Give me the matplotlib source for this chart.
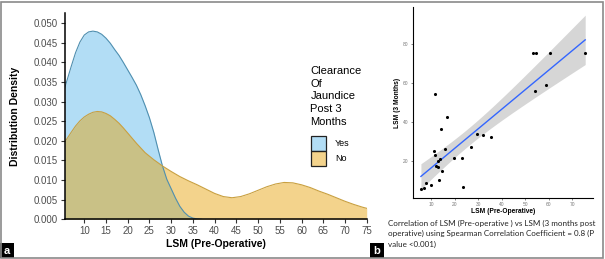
import numpy as np
import matplotlib
matplotlib.use("Agg")
from matplotlib import pyplot as plt
from matplotlib.patches import Rectangle

# panel a: density curves
yes_x = [5.5, 7, 8, 9, 10, 11, 12, 13, 14, 15, 16, 17, 18, 19, 20, 21, 22, 23, 24,
         25, 26, 27, 28, 29, 30, 31, 32, 33, 34, 35, 36, 37]
yes_y = [0.0335, 0.0390, 0.0425, 0.0452, 0.0470, 0.0478, 0.0480, 0.0478, 0.0472,
         0.0462, 0.0449, 0.0433, 0.0418, 0.0400, 0.0381, 0.0362, 0.0342, 0.0318,
         0.0290, 0.0259, 0.0222, 0.0178, 0.0136, 0.0102, 0.0078, 0.0054, 0.0033,
         0.0018, 0.0008, 0.0003, 0.0001, 0.0]

no_x = [5.5, 7, 8, 9, 10, 11, 12, 13, 14, 15, 16, 17, 18, 19, 20, 21, 22, 24, 26,
        28, 30, 32, 34, 36, 38, 40, 42, 44, 46, 48, 50, 52, 54, 56, 58, 60, 62, 64,
        66, 68, 70, 72, 74, 75]
no_y = [0.0197, 0.0222, 0.0238, 0.0251, 0.0261, 0.0268, 0.0273, 0.0275, 0.0274,
        0.0270, 0.0264, 0.0255, 0.0245, 0.0233, 0.0220, 0.0207, 0.0194, 0.0170,
        0.0152, 0.0136, 0.0122, 0.0109, 0.0098, 0.0088, 0.0077, 0.0066, 0.0058,
        0.0055, 0.0058, 0.0065, 0.0074, 0.0083, 0.0090, 0.0094, 0.0093, 0.0088,
        0.0081, 0.0072, 0.0064, 0.0055, 0.0046, 0.0038, 0.0031, 0.0028]

# panel b: LSM pre-operative vs LSM at 3 months
lsm_pre = [5.5, 7.0, 7.8, 9.8, 13.3, 14.4, 12.0, 12.7, 12.6, 13.5, 11.3, 11.1, 15.9,
           14.1, 16.8, 11.3, 19.6, 22.9, 23.6, 26.7, 29.3, 32.0, 35.2, 53.2, 54.5,
           60.4, 75.5, 54.3, 59.0]
lsm_3m = [5.5, 6.2, 8.7, 7.7, 10.3, 15.0, 17.3, 17.0, 19.8, 21.0, 22.9, 25.1, 26.1,
          36.2, 42.6, 54.4, 21.4, 21.4, 6.9, 27.0, 34.0, 33.5, 32.2, 75.2, 75.2,
          75.2, 75.2, 55.7, 59.0]

groups = ["Yes", "No"]
legend_title = "Clearance\nOf\nJaundice\nPost 3\nMonths"
caption = ("Correlation of LSM (Pre-operative ) vs LSM (3 months post\n"
           "operative) using Spearman Correlation Coefficient = 0.8 (P\n"
           "value <0.001)")

plt.rcParams['font.family'] = ['Liberation Sans', 'DejaVu Sans']

W, H = 605, 259
fig = plt.figure(figsize=(W / 100, H / 100), dpi=100)

# ---- panel a ----
ax = fig.add_axes([64.7 / W, 1 - 219.3 / H, 302 / W, 206.6 / H])
blue, orange = "#56B4E9", "#E69F00"
fill_a = 0.45
ax.fill_between(yes_x, yes_y, color=blue, alpha=fill_a, lw=0)
ax.plot(yes_x, yes_y, color="#4f8fb0", lw=0.8)
ax.fill_between(no_x, no_y, color=orange, alpha=fill_a, lw=0)
ax.plot(no_x, no_y, color="#c9a040", lw=0.8)

ax.set_xlim(5.5, 75)
ax.set_ylim(0, 0.0527)
ax.set_xticks(range(10, 76, 5))
ax.set_yticks(np.arange(0, 0.0501, 0.005))
ax.yaxis.set_major_formatter(matplotlib.ticker.FormatStrFormatter("%.3f"))
ax.tick_params(labelsize=7, labelcolor="#4d4d4d", length=3, width=0.8, color="#333333", pad=2)
for s in ["top", "right"]:
    ax.spines[s].set_visible(False)
for s in ["left", "bottom"]:
    ax.spines[s].set_linewidth(1.1)
ax.set_xlabel("LSM (Pre-Operative)", fontsize=7.5, fontweight="bold", labelpad=2)
ax.set_ylabel("Distribution Density", fontsize=7.5, fontweight="bold", labelpad=9.5)

# legend drawn by hand so the keys touch like in ggplot
fig.text(310.5 / W, 1 - 66 / H, legend_title, fontsize=8, va="top", ha="left",
         linespacing=1.33)
for i, (g, c) in enumerate(zip(groups, [blue, orange])):
    top = 136 + 15 * i
    fig.patches.append(Rectangle((310.7 / W, 1 - (top + 15) / H), 15.3 / W, 15 / H,
                                 transform=fig.transFigure,
                                 facecolor=matplotlib.colors.to_rgba(c, fill_a),
                                 edgecolor="#222222", lw=0.9))
    fig.text(335 / W, 1 - (top + 7.5) / H, g, fontsize=6.5, va="center", ha="left")

# ---- panel b ----
bx = fig.add_axes([412.7 / W, 1 - 198.3 / H, 180 / W, 191.3 / H])
x = np.array(lsm_pre)
y = np.array(lsm_3m)
slope, intercept = np.polyfit(x, y, 1)
xs = np.linspace(x.min(), x.max(), 80)
fit = intercept + slope * xs
n = len(x)
resid = y - (intercept + slope * x)
s_err = np.sqrt(np.sum(resid ** 2) / (n - 2))
se = s_err * np.sqrt(1 / n + (xs - x.mean()) ** 2 / np.sum((x - x.mean()) ** 2))
bx.fill_between(xs, fit - 2.052 * se, fit + 2.052 * se, color="#999999", alpha=0.4, lw=0)
bx.plot(xs, fit, color="#3366FF", lw=1)
bx.scatter(x, y, s=5, color="black", zorder=3, lw=0)

bx.set_xlim(2.0, 78.7)
bx.set_ylim(0.9, 99)
bx.set_xticks(range(10, 71, 10))
bx.set_yticks([20, 40, 60, 80])
bx.tick_params(labelsize=3.5, labelcolor="#777777", length=1.5, width=0.5, color="#555555", pad=1.5)
for s in ["top", "right"]:
    bx.spines[s].set_visible(False)
for s in ["left", "bottom"]:
    bx.spines[s].set_linewidth(0.8)
bx.set_xlabel("LSM (Pre-Operative)", fontsize=4.8, fontweight="bold", labelpad=0.5)
bx.set_ylabel("LSM (3 Months)", fontsize=4.8, fontweight="bold", labelpad=1.5)

fig.text(388 / W, 1 - 219.5 / H, caption, fontsize=5.8, family=["Lato", "DejaVu Sans"],
         va="top", ha="left", linespacing=1.6, color="#222222")

# panel letters
for lx, letter in [(0, "a"), (370, "b")]:
    fig.patches.append(Rectangle((lx / W, 1 / H), 14 / W, 15 / H, transform=fig.transFigure,
                                 facecolor="black", edgecolor="none"))
    fig.text((lx + 7) / W, 8.5 / H, letter, color="white", fontsize=8, fontweight="bold",
             ha="center", va="center")

# outer frame
fig.patches.append(Rectangle((1 / W, 1 / H), (W - 3) / W, (H - 3) / H, transform=fig.transFigure,
                             facecolor="none", edgecolor="#8a8a8a", lw=1.2))

fig.savefig("out.png", dpi=100)
